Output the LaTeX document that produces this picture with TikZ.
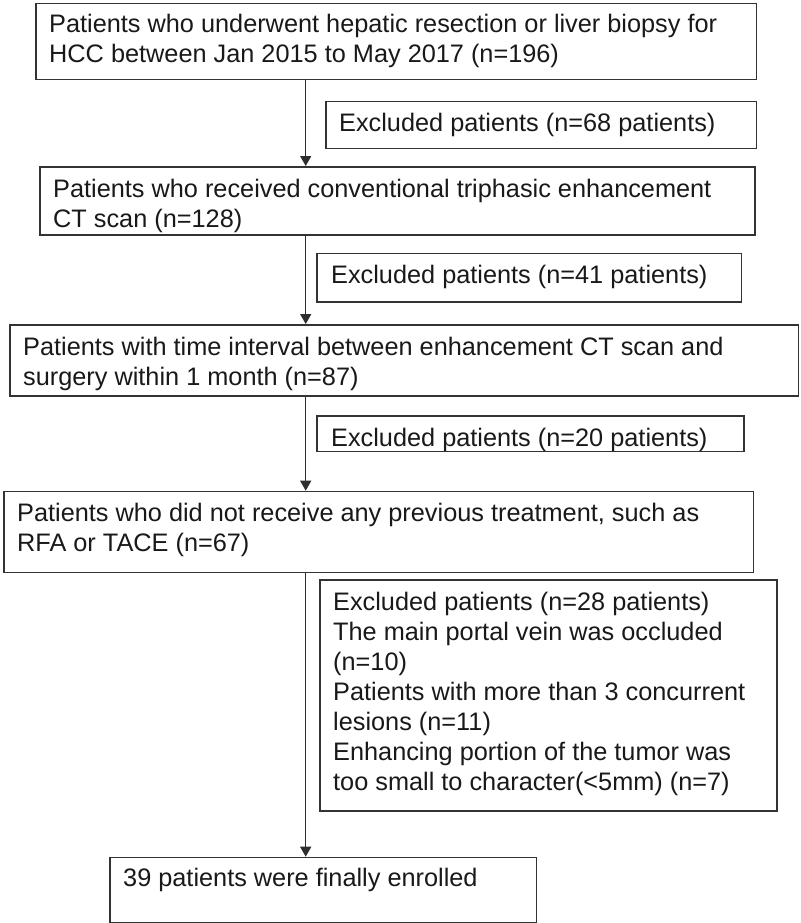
\documentclass[tikz,border=0pt]{standalone}
\usepackage{fontspec}
\setmainfont{Liberation Sans}
\usetikzlibrary{arrows.meta}
\begin{document}
\begin{tikzpicture}[x=1pt,y=-1pt,
  box/.style={draw=black!80, line width=1.5pt, inner sep=0pt, anchor=north west},
  txt/.style={anchor=base west, inner sep=0pt, text=black!90, font=\fontsize{25.3}{30}\selectfont},
  flow/.style={draw=black!82, line width=1.4pt, -{Triangle[width=11pt,length=10pt]}}]
\fill[white] (0,0) rectangle (800,923);
\path[use as bounding box] (0,0) rectangle (800,923);
\coordinate (ax) at (305.7,0);
% main boxes
\node[box, minimum width=720.7pt, minimum height=76pt] (b1) at (35,3) {};
\node[txt] (t1) at (49,33) {\begin{tabular}[t]{@{}l@{}}Patients who underwent hepatic resection or liver biopsy for\\HCC between Jan 2015 to May 2017 (n=196)\end{tabular}};
\node[box, minimum width=714.7pt, minimum height=68.3pt] (b2) at (39.3,166) {};
\node[txt] (t2) at (53,197) {\begin{tabular}[t]{@{}l@{}}Patients who received conventional triphasic enhancement\\CT scan (n=128)\end{tabular}};
\node[box, minimum width=788.7pt, minimum height=71pt] (b3) at (9,324) {};
\node[txt] (t3) at (23,355) {\begin{tabular}[t]{@{}l@{}}Patients with time interval between enhancement CT scan and\\surgery within 1 month (n=87)\end{tabular}};
\node[box, minimum width=749.7pt, minimum height=81pt] (b4) at (3,490.7) {};
\node[txt] (t4) at (17,521.7) {\begin{tabular}[t]{@{}l@{}}Patients who did not receive any previous treatment, such as\\RFA or TACE (n=67)\end{tabular}};
\node[box, minimum width=426.7pt, minimum height=65pt] (b5) at (109,856.7) {};
\node[txt] (t5) at (123,886.7) {39 patients were finally enrolled};
% exclusion boxes
\node[box, minimum width=430.7pt, minimum height=47pt] (e1) at (325,100.7) {};
\node[txt] (te1) at (339,131.7) {Excluded patients (n=68 patients)};
\node[box, minimum width=424.7pt, minimum height=48.3pt] (e2) at (316,252.7) {};
\node[txt] (te2) at (331,283) {Excluded patients (n=41 patients)};
\node[box, minimum width=427.3pt, minimum height=35.7pt] (e3) at (316,415) {};
\node[txt] (te3) at (331,446.7) {Excluded patients (n=20 patients)};
\node[box, minimum width=456.7pt, minimum height=230.7pt] (e4) at (319.3,579.3) {};
\node[txt] (te4) at (333,610) {\begin{tabular}[t]{@{}l@{}}Excluded patients (n=28 patients)\\The main portal vein was occluded\\(n=10)\\Patients with more than 3 concurrent\\lesions (n=11)\\Enhancing portion of the tumor was\\too small to character(<5mm) (n=7)\end{tabular}};
% connectors
\draw[flow] (b1.south -| ax) -- (b2.north -| ax);
\draw[flow] (b2.south -| ax) -- (b3.north -| ax);
\draw[flow] (b3.south -| ax) -- (b4.north -| ax);
\draw[flow] (b4.south -| ax) -- (b5.north -| ax);
\end{tikzpicture}
\end{document}
